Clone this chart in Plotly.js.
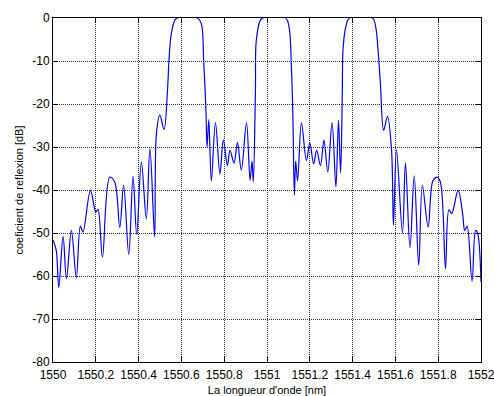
<!DOCTYPE html>
<html>
<head>
<meta charset="utf-8">
<script src="https://cdn.plot.ly/plotly-3.0.1.min.js"></script>
<style>
  html, body { margin: 0; padding: 0; background: #fff; overflow: hidden; }
  #chart { width: 494px; height: 396px; }
</style>
</head>
<body>
<div id="chart"></div>
<script>
// Reflection spectrum of a three-channel fibre Bragg grating
const wavelength = [
  1550.000, 1550.015, 1550.027, 1550.047, 1550.063, 1550.086, 1550.109, 1550.128,
  1550.140, 1550.175, 1550.200, 1550.210, 1550.231, 1550.265, 1550.288, 1550.312,
  1550.330, 1550.354, 1550.374, 1550.391, 1550.413, 1550.436, 1550.453, 1550.475,
  1550.483, 1550.499, 1550.519, 1550.535, 1550.542, 1550.553, 1550.569, 1550.580,
  1550.675, 1550.693, 1550.704, 1550.714, 1550.720, 1550.728, 1550.740, 1550.759,
  1550.780, 1550.796, 1550.815, 1550.827, 1550.846, 1550.862, 1550.880, 1550.904,
  1550.921, 1550.930, 1550.936, 1550.946, 1550.950, 1550.969, 1550.981,
  1551.087, 1551.103, 1551.114, 1551.121, 1551.128, 1551.134, 1551.143, 1551.161,
  1551.184, 1551.200, 1551.218, 1551.232, 1551.250, 1551.266, 1551.284, 1551.304,
  1551.322, 1551.334, 1551.344, 1551.352, 1551.355, 1551.368, 1551.386,
  1551.493, 1551.508, 1551.519, 1551.530, 1551.545, 1551.563, 1551.582, 1551.591,
  1551.605, 1551.633, 1551.647, 1551.668, 1551.688, 1551.709, 1551.726, 1551.753,
  1551.775, 1551.794, 1551.810, 1551.834, 1551.850, 1551.863, 1551.893, 1551.914,
  1551.924, 1551.935, 1551.958, 1551.975, 1551.983, 1552.000
];
const reflection = [
  -51.7, -54.0, -62.7, -50.8, -60.6, -49.4, -60.4, -48.4,
  -49.8, -40.1, -45.1, -44.5, -55.6, -37.0, -38.1, -48.7,
  -38.9, -55.0, -36.8, -50.3, -33.5, -46.7, -30.4, -50.9,
  -27.0, -22.6, -25.9, -16.8, -9.8, -3.6, -0.5, 0,
  0, -1.3, -9.8, -20.7, -30.0, -23.6, -37.9, -24.3,
  -36.2, -28.4, -34.3, -30.8, -33.7, -29.0, -35.4, -24.3,
  -37.7, -33.3, -38.1, -16.8, -5.2, -0.5, 0,
  0, -2.1, -11.4, -23.0, -41.2, -33.3, -37.9, -24.3,
  -33.1, -29.1, -33.9, -30.8, -34.3, -28.4, -35.8, -24.3,
  -39.3, -23.8, -36.0, -16.8, -7.5, -2.1, 0,
  0, -2.1, -7.5, -15.3, -26.1, -22.9, -30.8, -48.2,
  -30.6, -50.0, -33.7, -53.4, -36.7, -57.5, -38.9, -48.6,
  -37.9, -37.0, -38.1, -58.3, -44.6, -45.5, -40.1, -45.5,
  -49.4, -48.4, -61.2, -49.4, -49.8, -61.4
];

const xTickVals = [1550, 1550.2, 1550.4, 1550.6, 1550.8, 1551, 1551.2, 1551.4, 1551.6, 1551.8, 1552];
const xTickText = ['1550', '1550.2', '1550.4', '1550.6', '1550.8', '1551', '1551.2', '1551.4', '1551.6', '1551.8', '1552'];
const yTickVals = [0, -10, -20, -30, -40, -50, -60, -70, -80];
const yTickText = ['0', '-10', '-20', '-30', '-40', '-50', '-60', '-70', '-80'];

const FONT = 'Liberation Sans, Arial, Helvetica, sans-serif';

const trace = {
  x: wavelength,
  y: reflection,
  type: 'scatter',
  mode: 'lines',
  line: { color: '#0000ff', width: 1.2, shape: 'spline', smoothing: 1.0 },
  hoverinfo: 'x+y'
};

const axisCommon = {
  showline: true,
  linecolor: '#000',
  linewidth: 1,
  mirror: 'ticks',
  ticks: 'inside',
  ticklen: 5,
  tickcolor: '#000',
  showgrid: true,
  gridcolor: 'rgba(0,0,0,0.8)',
  griddash: '1px,1px',
  gridwidth: 1,
  zeroline: false,
  automargin: false,
  ticklabeloverflow: 'allow',
  tickfont: { family: FONT, size: 12, color: '#000' }
};

const layout = {
  width: 494,
  height: 396,
  margin: { l: 53, r: 13, t: 18, b: 34 },
  paper_bgcolor: '#fff',
  plot_bgcolor: '#fff',
  showlegend: false,
  xaxis: Object.assign({}, axisCommon, {
    range: [1550, 1552],
    tickmode: 'array',
    tickvals: xTickVals,
    ticktext: xTickText,
    ticklabelstandoff: 2,
    title: { text: "La longueur d'onde [nm]", font: { family: FONT, size: 11, color: '#000' }, standoff: 7 }
  }),
  yaxis: Object.assign({}, axisCommon, {
    range: [-80, 0],
    tickmode: 'array',
    tickvals: yTickVals,
    ticktext: yTickText,
    title: { text: 'coeficient de reflexion [dB]', font: { family: FONT, size: 11, color: '#000' }, standoff: 6 }
  })
};

Plotly.newPlot('chart', [trace], layout, { displayModeBar: false, staticPlot: true });
</script>
</body>
</html>
